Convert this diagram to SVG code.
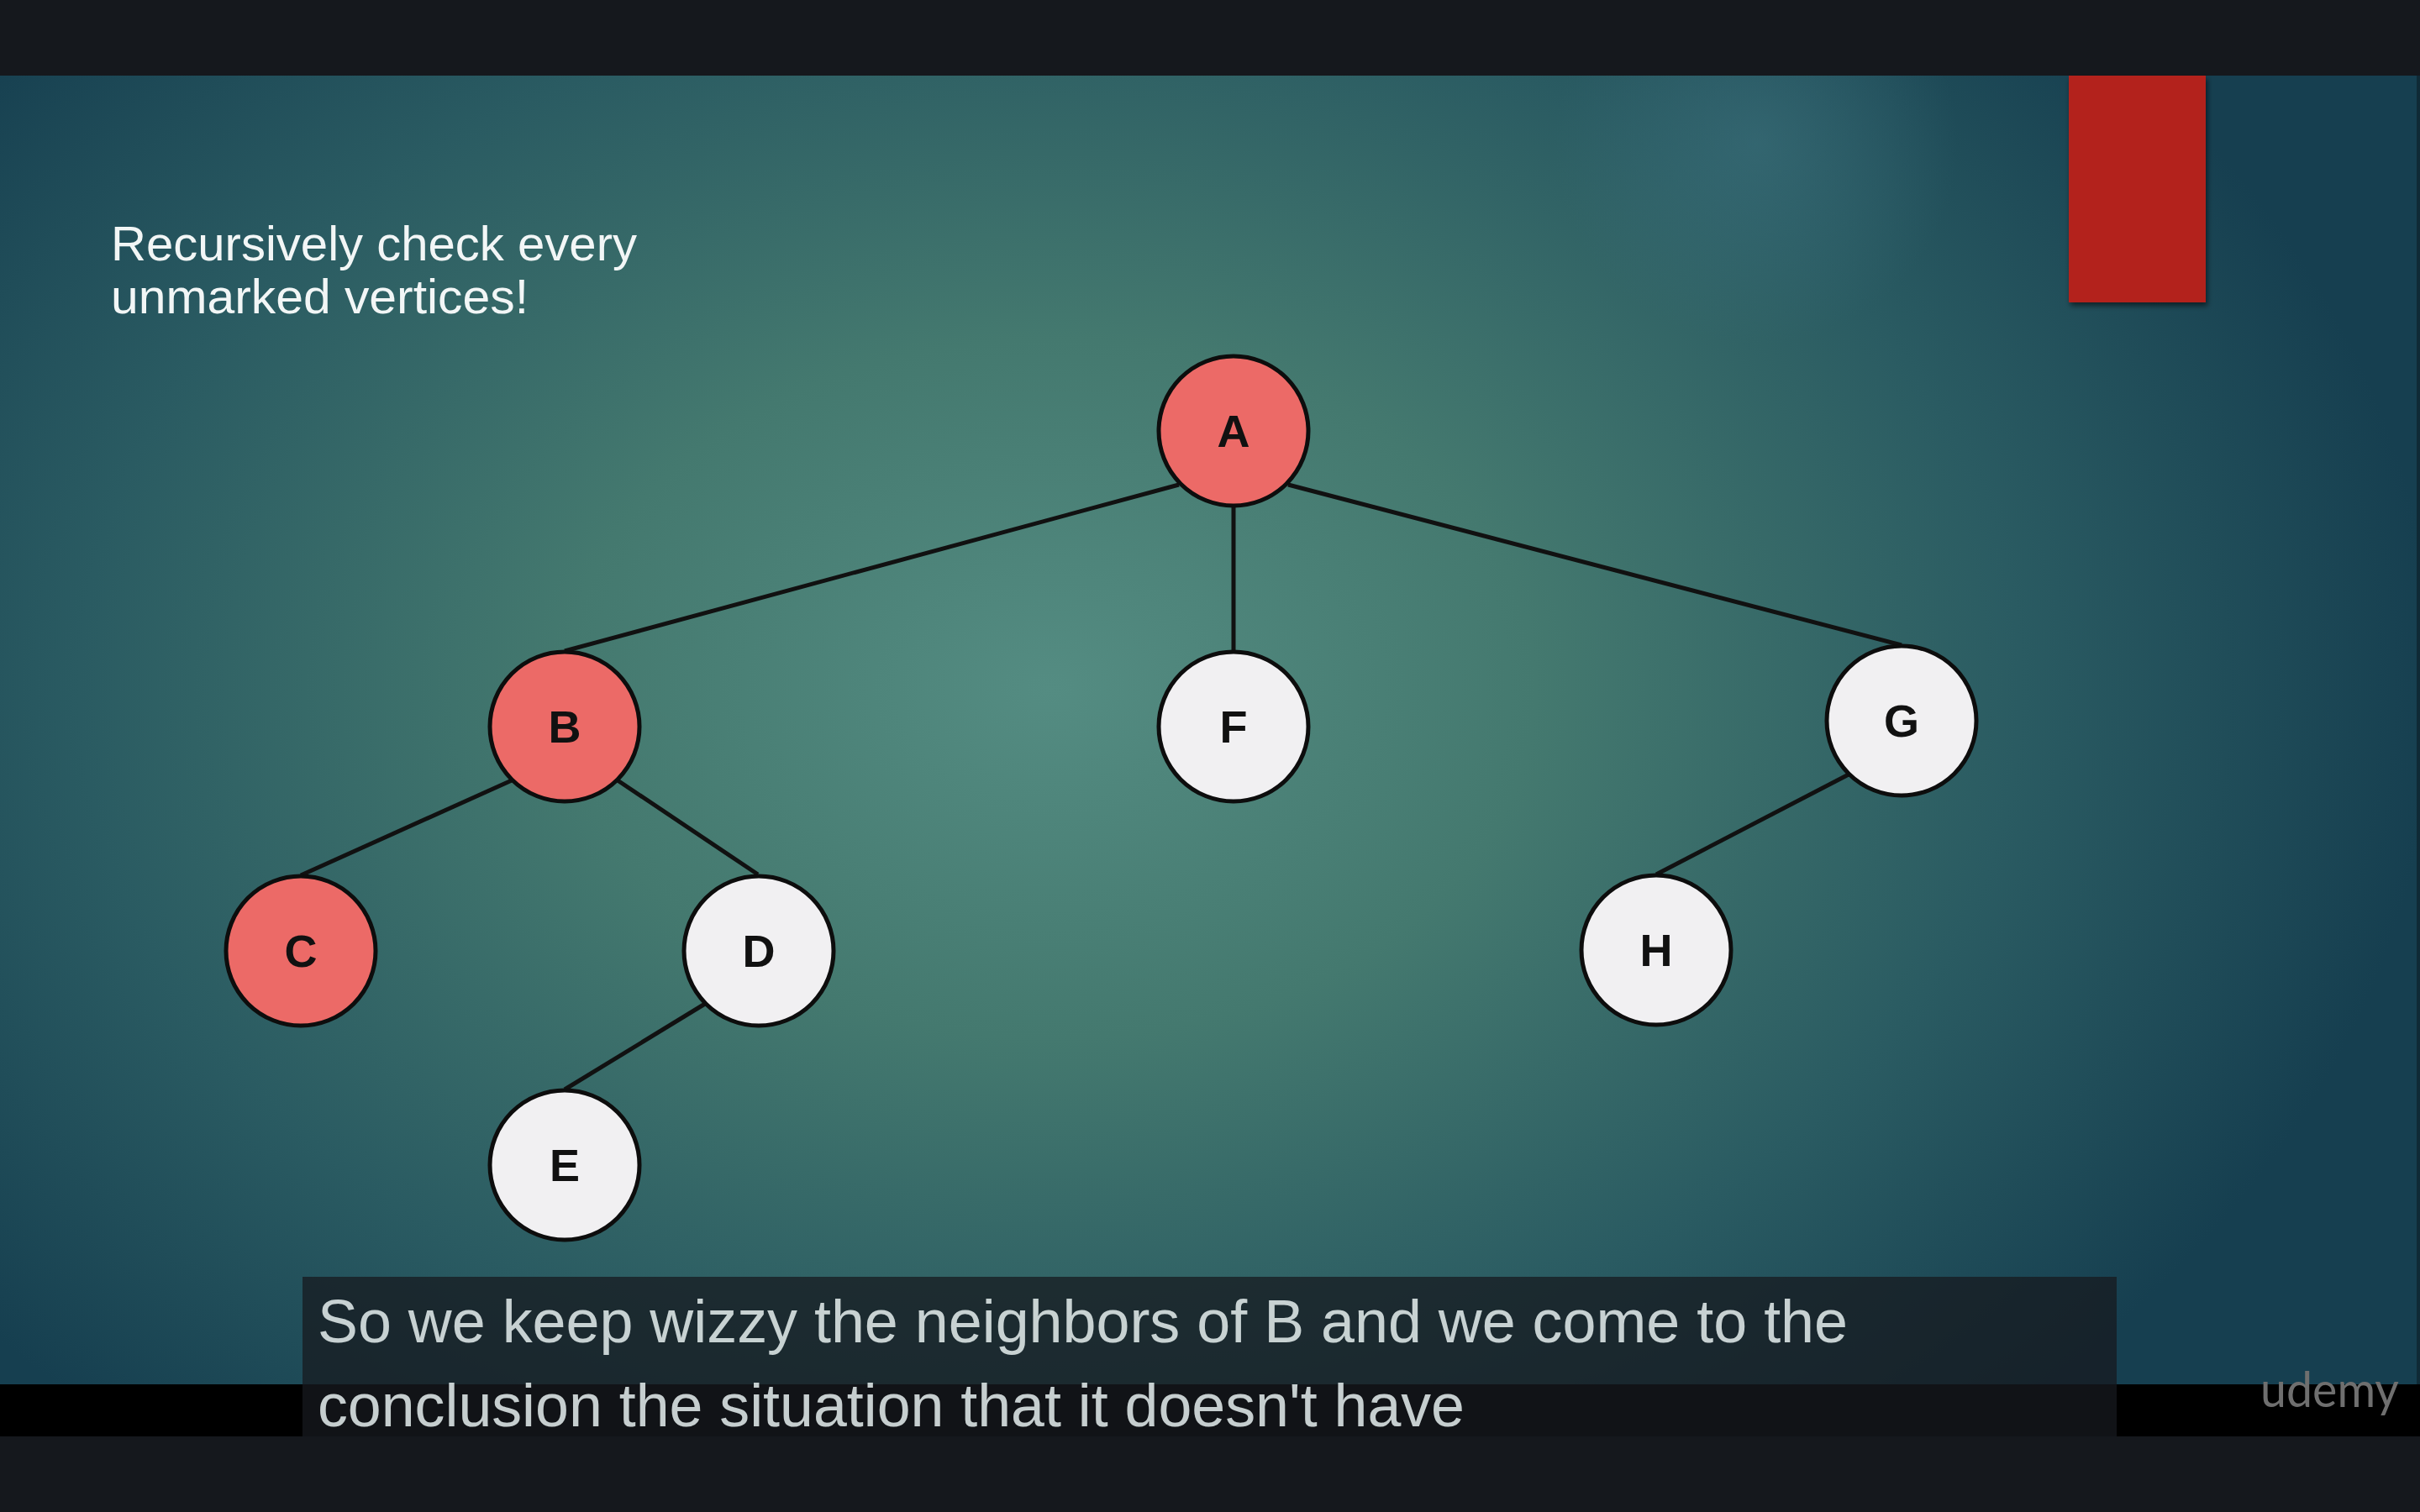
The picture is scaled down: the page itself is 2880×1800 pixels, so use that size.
<svg xmlns="http://www.w3.org/2000/svg" width="2880" height="1800" viewBox="0 0 2880 1800">
  <defs>
    <radialGradient id="bg" cx="1250" cy="820" r="1650" gradientUnits="userSpaceOnUse" gradientTransform="translate(1250 820) scale(1 0.72) translate(-1250 -820)">
      <stop offset="0" stop-color="#548c82"/>
      <stop offset="0.35" stop-color="#44796f"/>
      <stop offset="0.7" stop-color="#2a5b62"/>
      <stop offset="1" stop-color="#163f50"/>
    </radialGradient>
    <radialGradient id="blob" cx="2090" cy="170" r="240" gradientUnits="userSpaceOnUse">
      <stop offset="0" stop-color="#3f7480" stop-opacity="0.5"/>
      <stop offset="1" stop-color="#3f7480" stop-opacity="0"/>
    </radialGradient>
    <filter id="shadow" x="-20%" y="-10%" width="140%" height="130%">
      <feDropShadow dx="2" dy="4" stdDeviation="3" flood-color="#000" flood-opacity="0.55"/>
    </filter>
  </defs>
  <style>
    .edge { stroke: #111; stroke-width: 5; fill: none; }
    .node circle { stroke: #0d0d0d; stroke-width: 5; }
    .marked circle { fill: #ec6a67; }
    .unmarked circle { fill: #f1f0f2; }
    .node text { font-family: "Liberation Sans", Arial, sans-serif; font-weight: bold; font-size: 54px; fill: #111; text-anchor: middle; }
    .title { font-family: "Liberation Sans", Arial, sans-serif; font-size: 57px; fill: #f2f6f6; }
    .sub { font-family: "Liberation Sans", Arial, sans-serif; font-size: 72px; fill: #e4eded; fill-opacity: 0.86; }
  </style>

  <!-- frame -->
  <rect x="0" y="0" width="2880" height="1800" fill="#15181d"/>
  <rect x="0" y="90" width="2877" height="1558" fill="url(#bg)"/>
  <rect x="0" y="90" width="2877" height="1558" fill="url(#blob)"/>
  <rect x="2876" y="90" width="4" height="1558" fill="#0f2a36"/>
  <rect x="0" y="1648" width="2880" height="62" fill="#000"/>

  <!-- red tab -->
  <rect x="2462" y="90" width="163" height="270" fill="#b3241c" filter="url(#shadow)"/>

  <!-- heading -->
  <text class="title" x="132" y="310" textLength="626" lengthAdjust="spacingAndGlyphs">Recursively check every</text>
  <text class="title" x="132" y="373" textLength="497" lengthAdjust="spacingAndGlyphs">unmarked vertices!</text>

  <!-- connectors -->
  <g id="connectors">
    <line class="edge" x1="1403" y1="577" x2="672" y2="775"/>
    <line class="edge" x1="1468" y1="603" x2="1468" y2="775"/>
    <line class="edge" x1="1533" y1="577" x2="2263" y2="768"/>
    <line class="edge" x1="609" y1="929" x2="358" y2="1042"/>
    <line class="edge" x1="735" y1="929" x2="902" y2="1041"/>
    <line class="edge" x1="839" y1="1195" x2="672" y2="1297"/>
    <line class="edge" x1="2200" y1="922" x2="1971" y2="1041"/>
  </g>

  <!-- nodes -->
  <g id="node-A" class="node marked"><circle cx="1468" cy="513" r="89"/><text x="1468" y="532">A</text></g>
  <g id="node-B" class="node marked"><circle cx="672" cy="865" r="89"/><text x="672" y="884">B</text></g>
  <g id="node-F" class="node unmarked"><circle cx="1468" cy="865" r="89"/><text x="1468" y="884">F</text></g>
  <g id="node-G" class="node unmarked"><circle cx="2263" cy="858" r="89"/><text x="2263" y="877">G</text></g>
  <g id="node-C" class="node marked"><circle cx="358" cy="1132" r="89"/><text x="358" y="1151">C</text></g>
  <g id="node-D" class="node unmarked"><circle cx="903" cy="1132" r="89"/><text x="903" y="1151">D</text></g>
  <g id="node-H" class="node unmarked"><circle cx="1971" cy="1131" r="89"/><text x="1971" y="1150">H</text></g>
  <g id="node-E" class="node unmarked"><circle cx="672" cy="1387" r="89"/><text x="672" y="1406">E</text></g>

  <!-- logo -->
  <text x="2690" y="1675" font-family="Lato, 'Open Sans', sans-serif" font-size="58" fill="#6f6f6f" textLength="165" lengthAdjust="spacingAndGlyphs">udemy</text>

  <!-- subtitle -->
  <rect x="360" y="1520" width="2159" height="190" fill="#17191f" fill-opacity="0.75"/>
  <text class="sub" x="378" y="1598" textLength="1821" lengthAdjust="spacingAndGlyphs">So we keep wizzy the neighbors of B and we come to the</text>
  <text class="sub" x="378" y="1698" textLength="1365" lengthAdjust="spacingAndGlyphs">conclusion the situation that it doesn't have</text>
</svg>
